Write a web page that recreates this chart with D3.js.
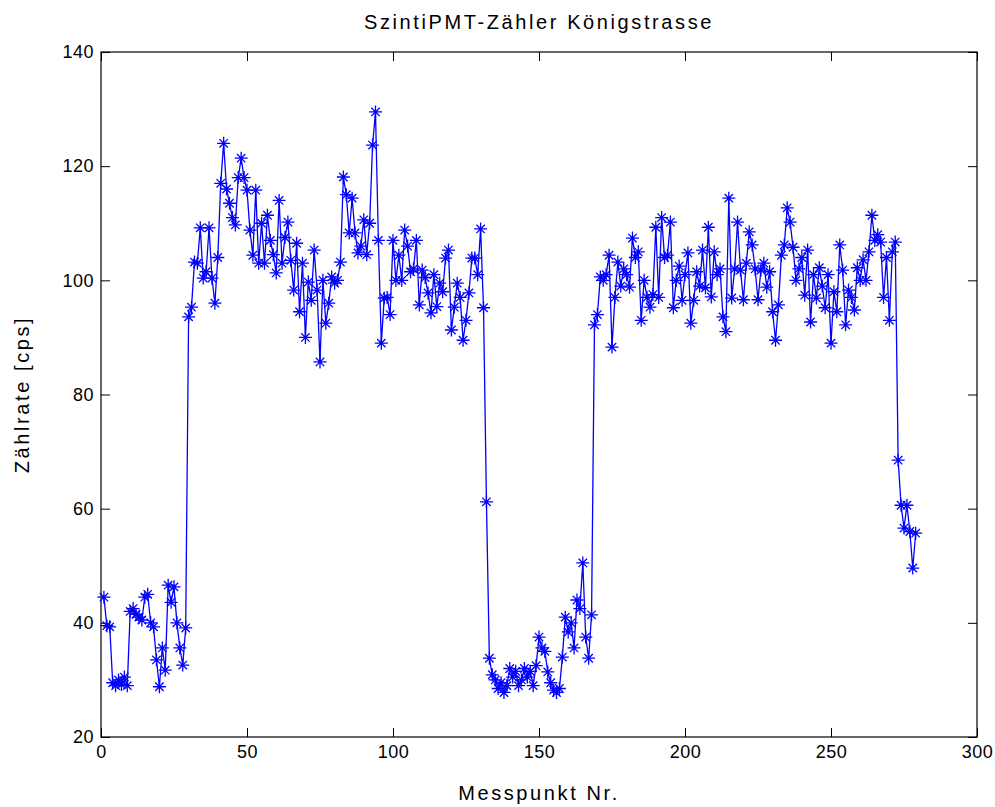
<!DOCTYPE html>
<html><head><meta charset="utf-8">
<script src="https://cdn.jsdelivr.net/npm/d3@7"></script>
<style>body{margin:0;background:#fff}</style>
</head><body><svg id="c" width="995" height="807"></svg>
<script>
// Zählrate [cps] per Messpunkt (index 1..279)
const rates = [
  44.5, 39.5, 39.3, 29.5, 29.0, 30.0, 29.2, 30.5, 29.0, 42.0,
  42.5, 41.5, 41.0, 40.5, 44.5, 45.0, 40.0, 39.3, 33.5, 28.8,
  35.6, 31.7, 46.6, 43.6, 46.3, 40.0, 35.6, 32.6, 39.1, 93.6,
  95.3, 103.2, 103.0, 109.2, 100.4, 101.5, 109.2, 100.4, 96.0, 104.0,
  117.0, 124.0, 116.0, 113.5, 111.0, 109.7, 118.0, 121.4, 118.0, 115.8,
  108.8, 104.4, 115.8, 103.0, 110.0, 103.0, 111.4, 107.0, 104.5, 101.3,
  114.0, 103.0, 107.5, 110.2, 103.5, 98.3, 106.5, 94.5, 103.0, 90.0,
  99.7, 96.5, 105.3, 98.3, 85.7, 100.0, 92.5, 96.0, 100.6, 99.5,
  100.0, 103.2, 118.1, 115.0, 108.3, 114.4, 108.3, 104.8, 106.0, 110.6,
  104.5, 110.0, 123.7, 129.5, 107.0, 89.0, 96.9, 97.0, 94.0, 107.0,
  100.0, 104.4, 100.0, 108.8, 106.0, 101.5, 102.0, 107.0, 95.7, 101.8,
  100.5, 97.8, 94.3, 101.0, 95.4, 99.5, 98.0, 103.9, 105.3, 91.3,
  95.3, 99.5, 97.0, 89.5, 93.0, 97.8, 103.9, 103.9, 101.0, 109.0,
  95.2, 61.2, 33.8, 30.9, 30.0, 28.5, 29.5, 27.8, 29.0, 32.0,
  30.5, 31.5, 29.0, 30.0, 32.0, 30.5, 31.5, 29.0, 32.5, 37.5,
  35.6, 35.0, 31.4, 29.5, 28.2, 27.8, 28.5, 34.0, 41.0, 38.4,
  40.0, 35.6, 44.0, 42.5, 50.5, 37.5, 33.8, 41.4, 92.2, 94.0,
  100.6, 100.0, 101.0, 104.4, 88.3, 97.0, 103.2, 99.0, 102.0, 101.0,
  98.8, 107.4, 104.0, 105.0, 93.0, 100.0, 97.0, 95.3, 97.5, 109.3,
  97.0, 111.0, 104.0, 104.4, 110.2, 95.2, 100.0, 102.5, 96.5, 101.0,
  104.8, 92.5, 96.5, 101.5, 99.0, 105.3, 98.7, 109.3, 97.1, 105.0,
  101.0, 102.0, 93.6, 91.0, 114.4, 96.9, 102.0, 110.2, 101.8, 96.6,
  103.0, 108.5, 106.2, 102.0, 96.6, 101.8, 103.0, 98.8, 101.5, 94.5,
  89.5, 95.7, 104.4, 106.2, 112.7, 110.2, 105.8, 100.0, 102.0, 104.0,
  97.4, 105.3, 92.7, 101.0, 96.9, 102.2, 99.0, 95.2, 101.0, 89.0,
  98.0, 94.5, 106.2, 101.8, 92.2, 98.3, 97.0, 94.8, 102.2, 100.0,
  103.6, 100.0, 105.0, 111.4, 107.0, 108.0, 106.7, 97.0, 104.0, 93.0,
  105.0, 106.7, 68.5, 60.6, 56.6, 60.6, 56.0, 49.6, 55.7
];
const xTicks = [0, 50, 100, 150, 200, 250, 300];
const yTicks = [20, 40, 60, 80, 100, 120, 140];
const titleText = "SzintiPMT-Zähler Königstrasse";
const xLabel = "Messpunkt Nr.";
const yLabel = "Zählrate [cps]";

const L = 101, R = 977, T = 52, B = 737;
const svg = d3.select("#c");
const x = d3.scaleLinear().domain([0, 300]).range([L, R]);
const y = d3.scaleLinear().domain([20, 140]).range([B, T]);
const font = "'Liberation Sans', Arial, Helvetica, sans-serif";
const tickLen = 9;

function styleAxis(g, labels) {
  g.select(".domain").remove();
  g.selectAll(".tick line").attr("stroke", "#000").attr("stroke-width", 1);
  g.selectAll(".tick text").attr("fill", "#000").style("font-family", font)
    .style("font-size", "18px").style("letter-spacing", "0.5px");
  if (!labels) g.selectAll(".tick text").remove();
}

svg.append("g").attr("transform", `translate(0,${B})`)
  .call(d3.axisBottom(x).tickValues(xTicks).tickSize(-tickLen).tickPadding(8).tickFormat(d3.format("d")))
  .call(g => styleAxis(g, true));
svg.append("g").attr("transform", `translate(0,${T})`)
  .call(d3.axisTop(x).tickValues(xTicks).tickSize(-tickLen))
  .call(g => styleAxis(g, false));
svg.append("g").attr("transform", `translate(${L},0)`)
  .call(d3.axisLeft(y).tickValues(yTicks).tickSize(-tickLen).tickPadding(7).tickFormat(d3.format("d")))
  .call(g => styleAxis(g, true));
svg.append("g").attr("transform", `translate(${R},0)`)
  .call(d3.axisRight(y).tickValues(yTicks).tickSize(-tickLen))
  .call(g => styleAxis(g, false));

svg.append("rect").attr("x", L).attr("y", T).attr("width", R - L).attr("height", B - T)
  .attr("fill", "none").attr("stroke", "#000").attr("stroke-width", 1.2);

const line = d3.line().x((d, i) => x(i + 1)).y(d => y(d));
svg.append("path").datum(rates).attr("d", line)
  .attr("fill", "none").attr("stroke", "#0000ff").attr("stroke-width", 1.3);

const star = "M-6.5,0H6.5M0,-6.5V6.5M-4.2,-4.2L4.2,4.2M-4.2,4.2L4.2,-4.2";
svg.append("g").selectAll("path").data(rates).join("path")
  .attr("transform", (d, i) => `translate(${x(i + 1)},${y(d)})`)
  .attr("d", star).attr("fill", "none").attr("stroke", "#0000ff").attr("stroke-width", 1.3);

const labelStyle = s => s.style("font-family", font).style("font-size", "20px").style("letter-spacing", "2.6px");
svg.append("text").attr("x", (L + R) / 2).attr("y", 29).attr("text-anchor", "middle")
  .call(labelStyle).text(titleText);
svg.append("text").attr("x", (L + R) / 2).attr("y", 800).attr("text-anchor", "middle")
  .call(labelStyle).text(xLabel);
svg.append("text").attr("transform", `translate(29,${(T + B) / 2}) rotate(-90)`).attr("text-anchor", "middle")
  .call(labelStyle).text(yLabel);
</script></body></html>
